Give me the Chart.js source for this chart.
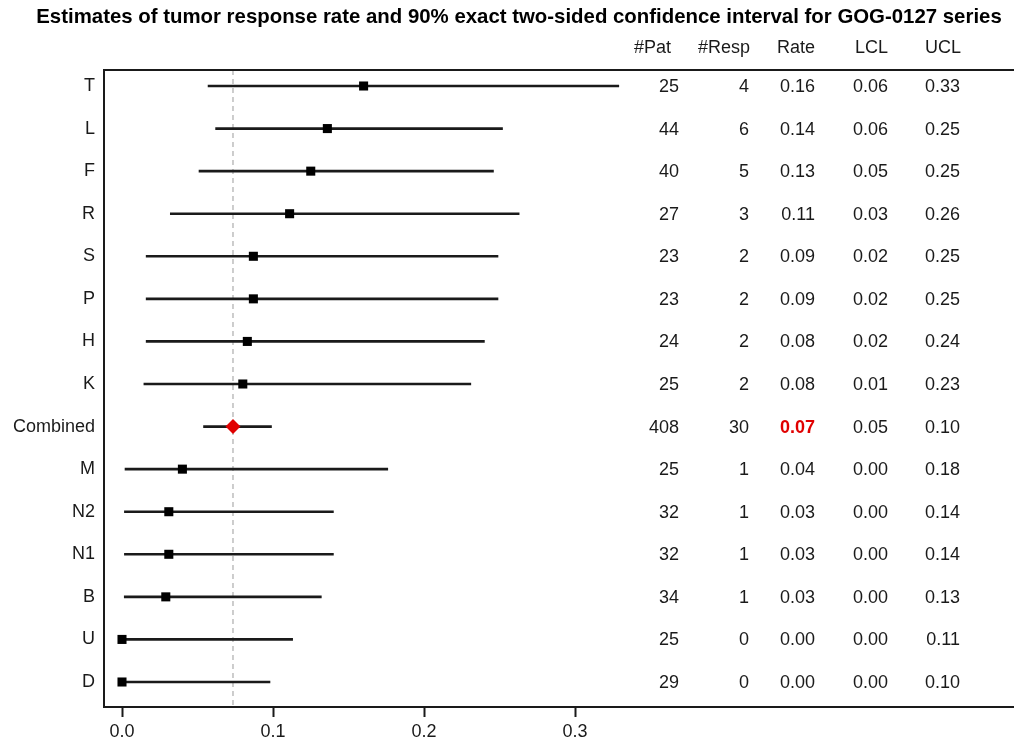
<!DOCTYPE html>
<html>
<head>
<meta charset="utf-8">
<script src="https://cdn.jsdelivr.net/npm/chart.js@4/dist/chart.umd.min.js"></script>
<style>
  html, body { margin: 0; padding: 0; background: #fff; overflow: hidden; }
</style>
</head>
<body>
<canvas id="forest" width="1014" height="746"></canvas>
<script>
// rows, top to bottom
const studies = ['T', 'L', 'F', 'R', 'S', 'P', 'H', 'K', 'Combined', 'M', 'N2', 'N1', 'B', 'U', 'D'];
const patients = [25, 44, 40, 27, 23, 23, 24, 25, 408, 25, 32, 32, 34, 25, 29];
const responses = [4, 6, 5, 3, 2, 2, 2, 2, 30, 1, 1, 1, 1, 0, 0];
const rates = [0.16, 0.136, 0.125, 0.111, 0.087, 0.087, 0.083, 0.08, 0.0735, 0.04, 0.031, 0.031, 0.029, 0, 0];
const lcl = [0.057, 0.062, 0.051, 0.032, 0.016, 0.016, 0.016, 0.0145, 0.054, 0.002, 0.0016, 0.0016, 0.0015, 0, 0];
const ucl = [0.329, 0.252, 0.246, 0.263, 0.249, 0.249, 0.240, 0.231, 0.099, 0.176, 0.140, 0.140, 0.132, 0.113, 0.098];
const xTicks = [0, 0.1, 0.2, 0.3];
const headers = ['#Pat', '#Resp', 'Rate', 'LCL', 'UCL'];

const combinedIdx = studies.indexOf('Combined');
const FONT = "'Liberation Sans', Arial, Helvetica, sans-serif";
const INK = '#1a1a1a';
const RED = '#e00000';

// right edges of the table columns (header, values)
const headerRight = [671, 750, 815, 888, 961];
const valueRight = [679, 749, 815, 888, 960];

function cellText(col, i) {
    if (col === 0) return String(patients[i]);
    if (col === 1) return String(responses[i]);
    if (col === 2) return rates[i].toFixed(2);
    if (col === 3) return lcl[i].toFixed(2);
    return ucl[i].toFixed(2);
}

const forestExtras = {
    id: 'forestExtras',
    beforeDatasetsDraw(chart) {
        // reference line at the combined rate
        const { ctx, chartArea } = chart;
        const x = chart.scales.x.getPixelForValue(rates[combinedIdx]);
        ctx.save();
        ctx.strokeStyle = '#bdbdbd';
        ctx.lineWidth = 1.5;
        ctx.setLineDash([5, 4]);
        ctx.beginPath();
        ctx.moveTo(x, chartArea.top);
        ctx.lineTo(x, chartArea.bottom);
        ctx.stroke();
        ctx.restore();
    },
    afterDraw(chart) {
        const { ctx, chartArea } = chart;
        const yScale = chart.scales.y;
        ctx.save();

        // top edge of the box (right edge runs off the page)
        ctx.strokeStyle = INK;
        ctx.lineWidth = 2;
        ctx.beginPath();
        ctx.moveTo(chartArea.left - 1, chartArea.top);
        ctx.lineTo(chartArea.right, chartArea.top);
        ctx.stroke();

        ctx.fillStyle = '#000';
        ctx.textBaseline = 'middle';
        ctx.textAlign = 'center';
        ctx.font = 'bold 20.4px ' + FONT;
        ctx.fillText('Estimates of tumor response rate and 90% exact two-sided confidence interval for GOG-0127 series', 519, 17);

        ctx.fillStyle = INK;
        ctx.textAlign = 'right';
        ctx.font = '18px ' + FONT;
        headers.forEach((h, c) => ctx.fillText(h, headerRight[c], 48));

        studies.forEach((s, i) => {
            const y = yScale.getPixelForValue(i);
            for (let c = 0; c < headers.length; c++) {
                if (i === combinedIdx && c === 2) {
                    ctx.fillStyle = RED;
                    ctx.font = 'bold 18px ' + FONT;
                } else {
                    ctx.fillStyle = INK;
                    ctx.font = '18px ' + FONT;
                }
                ctx.fillText(cellText(c, i), valueRight[c], y + 1);
            }
        });
        ctx.restore();
    }
};

new Chart(document.getElementById('forest'), {
    type: 'bar',
    data: {
        datasets: [
            {
                type: 'bar',
                label: 'CI',
                data: studies.map((s, i) => ({ x: [lcl[i], ucl[i]], y: i })),
                backgroundColor: INK,
                barThickness: 2,
                order: 2
            },
            {
                type: 'scatter',
                label: 'Rate',
                data: studies.map((s, i) => ({ x: rates[i], y: i })),
                pointStyle: studies.map((s, i) => i === combinedIdx ? 'rectRot' : 'rect'),
                pointRadius: studies.map((s, i) => i === combinedIdx ? 7.5 : 6.4),
                backgroundColor: studies.map((s, i) => i === combinedIdx ? RED : '#000'),
                borderWidth: 0,
                order: 1
            }
        ]
    },
    options: {
        indexAxis: 'y',
        responsive: false,
        animation: false,
        layout: { autoPadding: false, padding: { top: 70, left: 0, right: 0, bottom: 0 } },
        plugins: {
            legend: { display: false },
            tooltip: { enabled: false }
        },
        scales: {
            x: {
                type: 'linear',
                min: -18 / 1510,
                max: 892 / 1510,
                afterBuildTicks: scale => { scale.ticks = xTicks.map(v => ({ value: v })); },
                afterFit: scale => { scale.height = 39; },
                ticks: {
                    callback: v => v.toFixed(1),
                    font: { family: FONT, size: 18 },
                    color: INK,
                    padding: 4,
                    maxRotation: 0
                },
                grid: { drawOnChartArea: false, drawTicks: true, tickLength: 10, tickColor: INK, tickWidth: 2 },
                border: { color: INK, width: 2 }
            },
            y: {
                type: 'linear',
                reverse: true,
                offset: false,
                min: -16 / 42.571,
                max: 14 + 25 / 42.571,
                afterBuildTicks: scale => { scale.ticks = studies.map((s, i) => ({ value: i })); },
                afterFit: scale => { scale.width = 104; },
                ticks: {
                    callback: v => studies[v],
                    font: { family: FONT, size: 18 },
                    color: INK,
                    padding: 9,
                    autoSkip: false
                },
                grid: { drawOnChartArea: false, drawTicks: false },
                border: { color: INK, width: 2 }
            }
        }
    },
    plugins: [forestExtras]
});
</script>
</body>
</html>
